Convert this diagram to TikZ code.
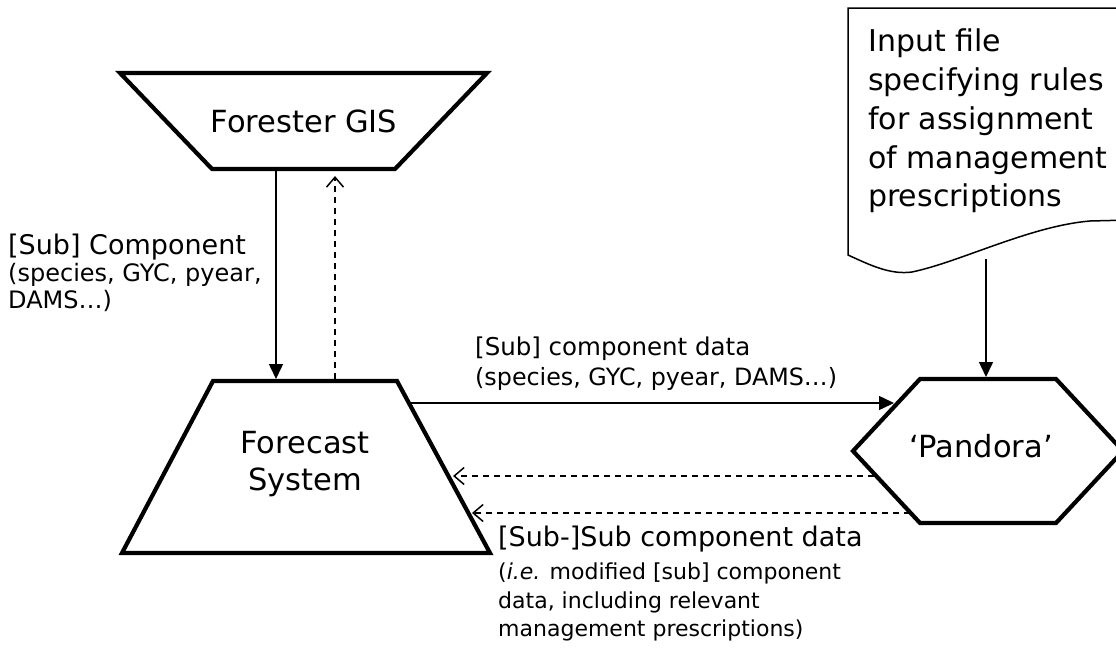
\documentclass[tikz,border=0pt]{standalone}
\usepackage{fontspec}
\setmainfont{DejaVu Sans}
\usetikzlibrary{arrows.meta}
\tikzset{
  shapeline/.style={line width=4.2pt, line join=miter},
  docline/.style={line width=1.5pt},
  conn/.style={line width=1.5pt},
  solidarrow/.style={conn, -{Triangle[length=15pt,width=14pt]}},
  dasharrow/.style={conn, dash pattern=on 6pt off 5pt, -{Straight Barb[length=10pt,width=17pt,line width=1.5pt]}},
  big/.style={font=\fontsize{30.5}{37}\selectfont, inner sep=0pt},
  lbl/.style={inner sep=0pt, anchor=north west, align=left},
}
\begin{document}
\begin{tikzpicture}[x=1pt,y=-1pt]
\useasboundingbox (0,0) rectangle (1116,653);
\clip (0,0) rectangle (1116,653);

% Forester GIS (inverted trapezoid)
\draw[shapeline] (120,73) -- (487,73) -- (395,169) -- (212,169) -- cycle;
\node[big, anchor=base] (gis) at (304,132) {Forester GIS};

% Forecast System (trapezoid)
\draw[shapeline] (213,381) -- (397,381) -- (490,553) -- (122,553) -- cycle;
\node[big, align=center] (fcs) at (305,464) {Forecast\\System};

% Pandora (hexagon)
\draw[shapeline] (853,451) -- (920,379) -- (1056,379) -- (1123,451) -- (1056,523) -- (920,523) -- cycle;
\node[big, anchor=base] (pan) at (981,457) {‘Pandora’};

% Input file (document shape)
\draw[docline] (848,8) -- (1130,8) -- (1130,220) -- (1090,221)
  .. controls (1030,226) and (960,262) .. (912,272)
  .. controls (890,275) and (870,265) .. (848,255) -- cycle;
\node[lbl, font=\fontsize{30}{38.7}\selectfont] (doc) at (868,29)
  {Input file\\specifying rules\\for assignment\\of management\\prescriptions};

% labels
\node[lbl, font=\fontsize{24}{27}\selectfont] (lab1) at (8,233.5)
  {\fontsize{27}{27}\selectfont [Sub] Component\\(species, GYC, pyear,\\DAMS…)};
\node[lbl, font=\fontsize{23.8}{30}\selectfont] (lab2) at (475,337)
  {\fontsize{24.5}{30}\selectfont [Sub] component data\\(species, GYC, pyear, DAMS…)};
\node[lbl, font=\fontsize{22}{28.5}\selectfont] (lab3) at (498,525.5)
  {\fontsize{27}{28.5}\selectfont [Sub-]Sub component data\\[5pt](\textit{i.e.} modified [sub] component\\data, including relevant\\management prescriptions)};

% connector end points
\coordinate (gisA) at (276,171);
\coordinate (fcsA) at (276,379);
\coordinate (fcsB) at (335,379);
\coordinate (gisB) at (335,176);
\coordinate (fcsC) at (410,403);
\coordinate (panC) at (894,403);
\coordinate (panD) at (874,476);
\coordinate (fcsD) at (453,476);
\coordinate (panE) at (910,513);
\coordinate (fcsE) at (472,513);
\coordinate (docF) at (986,259);
\coordinate (panF) at (986,377);

\draw[solidarrow] (gisA) -- (fcsA);
\draw[dasharrow] (fcsB) -- (gisB);
\draw[solidarrow] (fcsC) -- (panC);
\draw[dasharrow] (panD) -- (fcsD);
\draw[dasharrow] (panE) -- (fcsE);
\draw[solidarrow] (docF) -- (panF);
\end{tikzpicture}
\end{document}
